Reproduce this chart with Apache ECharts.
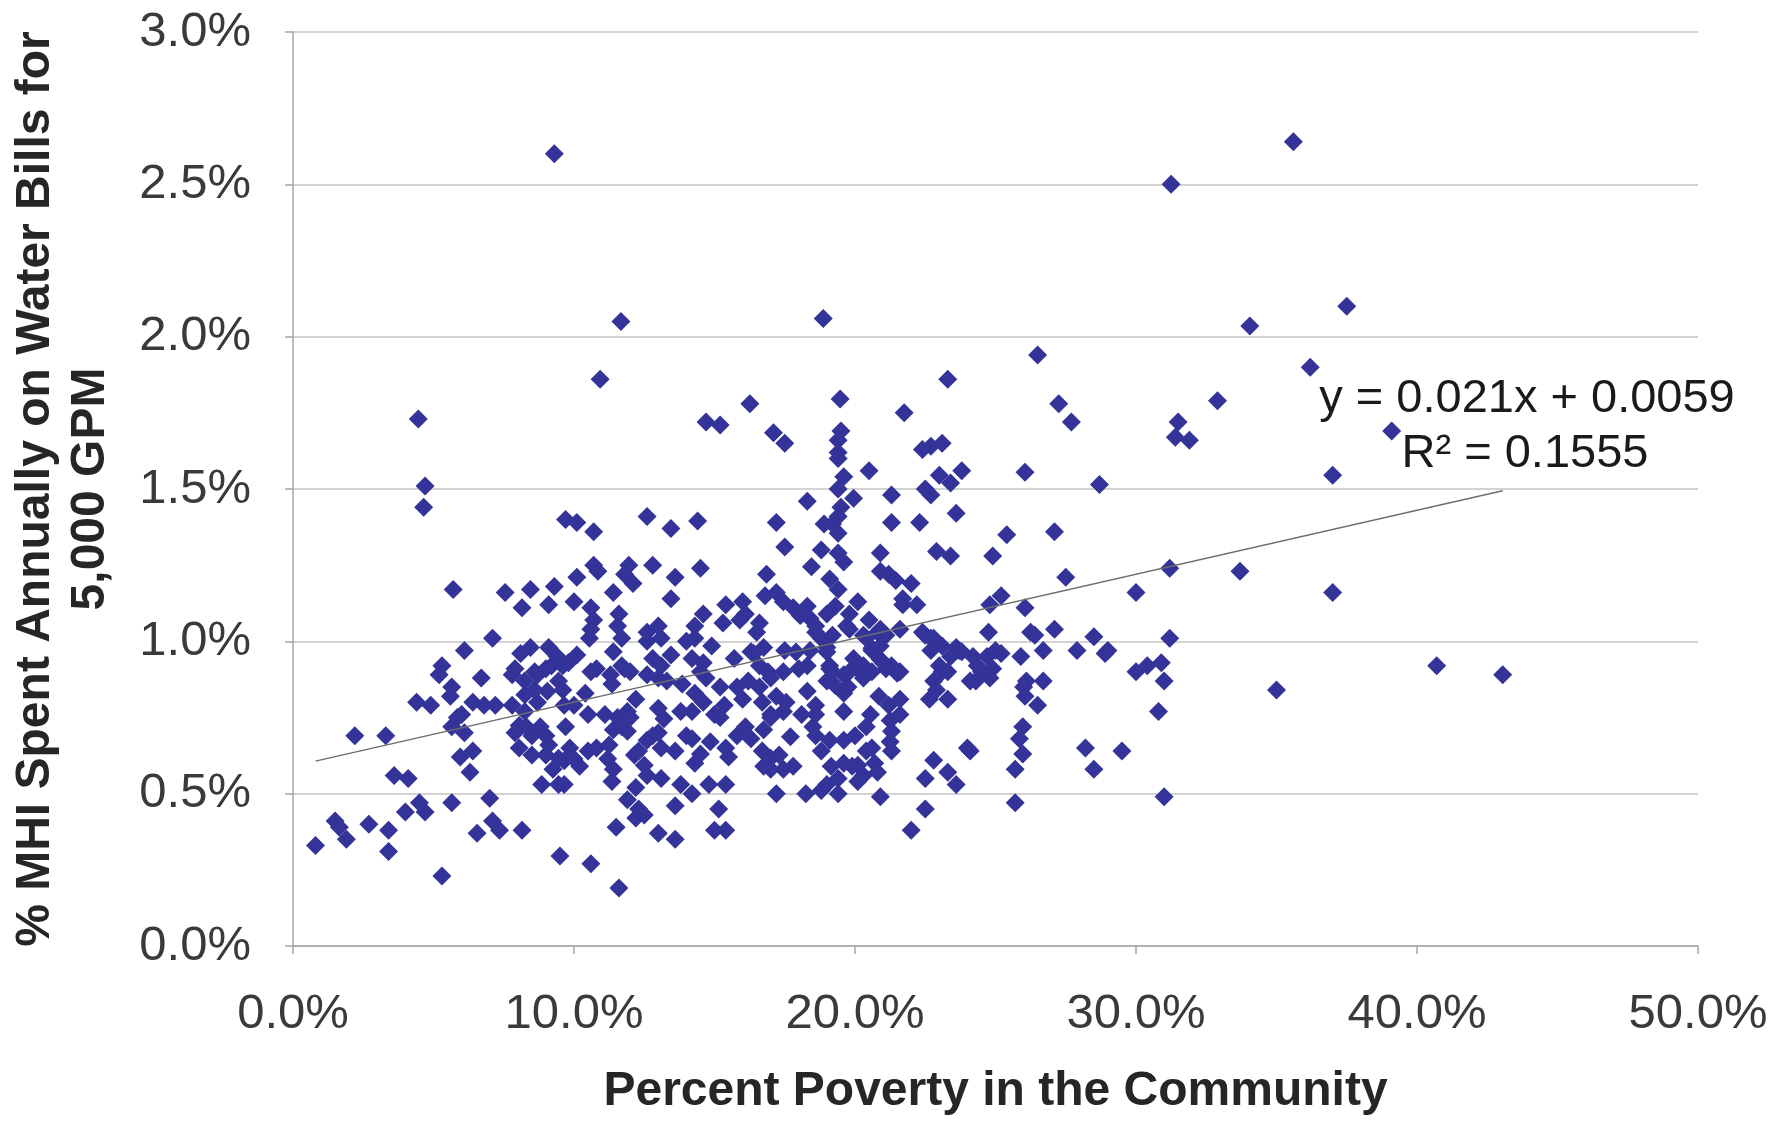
<!DOCTYPE html>
<html>
<head>
<meta charset="utf-8">
<script src="https://cdn.jsdelivr.net/npm/echarts@6/dist/echarts.min.js"></script>
<style>
  html, body { margin: 0; padding: 0; background: #fff; }
  #chart { width: 1787px; height: 1121px; }
</style>
</head>
<body>
<div id="chart"></div>
<script>
// percent poverty in the community (x)
const povertyPct = [
  9.3,35.6,31.25,11.67,18.87,34.05,37.5,10.93,23.3,26.5,
  36.2,4.46,16.26,19.47,32.9,27.25,27.7,31.5,31.4,31.9,
  39.1,14.7,15.2,17.1,17.5,21.75,19.5,19.4,19.4,19.4,
  22.4,22.7,23.1,23.0,23.4,23.8,20.5,26.05,37.0,4.7,
  4.65,28.7,19.6,19.4,19.95,19.5,19.4,19.2,19.4,18.9,
  18.3,21.3,22.7,22.5,23.6,9.7,10.1,10.7,12.6,13.45,
  14.4,17.2,21.3,22.3,25.4,27.1,17.5,18.8,18.45,19.4,
  19.6,20.9,20.9,21.2,21.45,22.0,21.7,22.9,23.4,24.9,
  27.5,31.2,33.7,30.0,37.0,25.2,24.8,26.05,19.1,19.4,
  19.3,20.1,19.8,19.7,16.85,17.2,16.8,17.45,17.8,18.05,
  18.3,18.4,18.6,10.7,10.85,10.1,11.95,12.1,11.8,12.8,
  13.6,14.5,11.4,10.0,13.45,10.6,10.7,10.6,10.55,11.6,
  11.55,11.7,13.0,12.6,14.6,14.3,14.3,14.9,15.4,16.0,
  16.1,16.6,5.7,7.55,8.45,9.3,8.15,9.1,7.1,6.1,
  5.3,8.45,9.1,7.9,8.6,9.2,9.6,6.7,18.8,19.0,
  19.2,19.8,20.3,20.8,21.1,21.6,22.5,23.1,23.6,23.0,
  17.5,19.1,20.3,20.6,20.9,21.3,21.6,24.75,26.25,27.1,
  28.5,29.0,31.2,25.0,24.7,24.35,25.9,30.0,30.4,30.9,
  24.3,24.8,26.1,26.7,26.05,26.5,25.97,25.85,25.97,25.7,
  25.7,24.1,28.2,28.5,29.5,31.0,30.8,31.0,40.7,43.05,
  35.0,0.8,1.5,1.65,1.9,2.2,3.3,2.7,3.4,3.4,
  3.6,4.1,4.0,4.5,4.7,4.4,4.9,5.3,5.65,5.2,
  5.65,5.6,5.65,6.0,6.1,5.95,6.4,6.3,6.4,6.8,
  7.2,5.85,7.0,6.55,7.1,7.35,8.15,9.5,8.85,9.45,
  7.8,8.25,8.7,8.25,7.8,8.25,8.7,9.05,9.45,9.65,
  8.05,8.5,8.05,8.5,9.0,9.45,9.0,9.25,9.65,8.1,
  9.4,9.8,7.9,8.3,8.8,9.1,9.6,9.7,9.85,8.6,
  9.0,10.0,11.1,11.55,11.9,11.4,11.9,11.7,10.0,10.5,
  10.8,11.2,11.4,11.35,12.15,12.5,12.6,12.2,12.6,13.0,
  13.1,13.2,13.0,13.1,13.6,13.8,13.85,14.2,14.5,14.85,
  14.2,14.6,15.0,15.35,15.2,14.7,15.2,15.8,16.2,15.4,
  15.8,16.3,16.75,16.75,17.0,16.7,9.65,10.8,11.3,11.8,
  12.6,13.0,10.6,11.6,11.5,11.9,12.3,12.5,12.2,13.0,
  13.6,13.6,14.2,15.15,15.0,15.4,14.8,15.4,10.1,10.6,
  11.4,11.7,12.0,12.8,13.1,13.45,14.2,14.6,15.7,16.3,
  16.6,10.4,10.5,11.35,11.25,10.2,12.0,12.2,12.3,12.8,
  13.3,13.8,14.0,14.3,14.5,14.3,15.5,16.0,16.1,16.4,
  16.6,16.7,16.9,17.0,17.45,17.2,17.55,17.0,17.45,18.3,
  18.6,18.1,18.5,18.6,17.7,19.1,19.6,20.0,17.0,17.3,
  17.45,17.0,19.15,19.4,19.6,20.1,20.3,20.4,20.6,19.1,
  19.6,20.1,20.3,19.3,19.6,19.6,19.75,20.55,20.4,20.85,
  21.2,21.6,21.25,21.3,21.25,20.6,21.1,21.5,22.8,22.65,
  23.3,23.1,24.1,17.2,18.25,18.8,19.4,20.9,22.5,22.0,
  22.5,22.8,23.3,23.6,24.0,16.75,17.9,18.3,19.0,19.2,
  19.95,20.2,20.6,20.9,21.0,22.4,22.8,23.8,23.3,17.8,
  18.0,18.4,18.6,18.8,19.0,19.0,19.8,19.9,20.1,20.7,
  20.8,21.3,21.6,22.9,22.7,23.7,23.4,24.2,24.5,24.9,
  25.2,26.0,27.9,28.9,26.7,26.4,12.6,13.1,14.0,15.3,
  15.9,16.5,18.1,18.6,19.0,20.5,20.9,21.7,22.2,22.7,
  20.4
];

// % of MHI spent annually on water bills (y), same order
const waterBillPct = [
  2.60,2.64,2.50,2.05,2.06,2.035,2.10,1.86,1.86,1.94,
  1.90,1.73,1.78,1.795,1.79,1.78,1.72,1.72,1.67,1.66,
  1.69,1.72,1.71,1.685,1.65,1.75,1.69,1.66,1.62,1.60,
  1.63,1.64,1.65,1.545,1.52,1.56,1.56,1.555,1.545,1.51,
  1.44,1.515,1.54,1.50,1.47,1.44,1.41,1.385,1.355,1.385,
  1.46,1.48,1.48,1.50,1.42,1.40,1.39,1.36,1.41,1.37,
  1.395,1.39,1.39,1.39,1.35,1.36,1.31,1.30,1.245,1.29,
  1.26,1.29,1.23,1.22,1.20,1.19,1.12,1.295,1.28,1.28,
  1.21,1.24,1.23,1.16,1.16,1.15,1.12,1.11,1.205,1.17,
  1.115,1.13,1.09,1.05,1.22,1.16,1.15,1.13,1.11,1.085,
  1.115,1.075,1.03,1.25,1.23,1.21,1.25,1.19,1.22,1.25,
  1.21,1.24,1.16,1.13,1.14,1.11,1.07,1.04,1.01,1.09,
  1.05,1.01,1.05,1.00,1.09,1.05,1.01,0.985,1.12,1.13,
  1.09,1.06,1.17,1.16,1.17,1.18,1.11,1.12,1.01,0.97,
  0.92,0.98,0.98,0.91,0.90,0.92,0.92,0.88,1.01,0.98,
  1.02,1.04,1.02,1.03,1.02,1.04,1.02,0.985,0.98,0.92,
  0.97,0.92,0.92,0.97,0.94,0.92,0.90,1.03,1.03,1.04,
  1.015,0.97,1.01,0.97,0.95,0.92,0.95,0.90,0.92,0.93,
  0.87,0.88,0.87,0.87,0.82,0.79,0.72,0.68,0.63,0.58,
  0.47,0.64,0.65,0.58,0.64,0.87,0.77,0.49,0.92,0.89,
  0.84,0.33,0.41,0.39,0.35,0.69,0.69,0.40,0.38,0.31,
  0.56,0.55,0.44,0.47,0.44,0.80,0.79,0.23,0.47,0.89,
  0.85,0.82,0.72,0.76,0.70,0.62,0.64,0.57,0.80,0.79,
  0.79,0.75,0.485,0.37,0.41,0.38,0.38,0.295,0.53,0.53,
  0.89,0.87,0.89,0.825,0.79,0.77,0.80,0.836,0.87,0.79,
  0.724,0.69,0.65,0.627,0.627,0.616,0.69,0.58,0.608,0.96,
  0.95,0.93,0.70,0.72,0.72,0.66,0.84,0.72,0.65,0.84,
  0.91,0.79,0.76,0.75,0.77,0.71,0.705,0.72,0.615,0.64,
  0.65,0.615,0.58,0.54,0.627,0.593,0.56,0.52,0.675,0.70,
  0.65,0.746,0.78,0.55,0.64,0.53,0.86,0.68,0.63,0.67,
  0.77,0.80,0.76,0.79,0.75,0.88,0.85,0.85,0.87,0.65,
  0.69,0.68,0.59,0.71,0.76,0.80,0.53,0.91,0.89,0.91,
  0.89,0.88,0.27,0.19,0.39,0.48,0.45,0.43,0.42,0.37,
  0.35,0.46,0.50,0.45,0.38,0.38,0.53,0.53,0.955,0.90,
  0.966,0.92,0.90,0.944,0.92,0.955,0.944,0.93,0.944,0.966,
  0.92,0.83,0.76,0.86,0.66,0.59,0.75,0.81,0.64,0.69,
  0.87,0.77,0.69,0.83,0.90,0.60,0.62,0.81,0.72,0.96,
  0.85,0.64,0.90,0.88,0.90,0.82,0.80,0.75,0.77,0.836,
  0.79,0.76,0.72,0.69,0.687,0.675,0.675,0.69,0.616,0.627,
  0.58,0.58,0.59,0.55,0.60,0.593,0.56,0.64,0.65,0.91,
  0.89,0.91,0.88,0.855,0.83,0.77,0.85,0.76,0.72,0.82,
  0.79,0.81,0.74,0.705,0.67,0.90,0.91,0.895,0.87,0.81,
  0.81,0.90,0.87,0.50,0.50,0.51,0.50,0.49,0.45,0.38,
  0.55,0.61,0.57,0.53,0.65,0.98,0.965,0.92,0.965,0.90,
  0.944,0.90,0.977,0.985,0.93,1.03,1.01,0.966,0.90,0.59,
  0.91,0.97,0.76,0.64,0.87,0.53,0.90,0.59,0.54,0.60,
  0.57,0.64,0.76,0.84,0.97,0.97,0.95,0.95,0.90,0.91,
  0.96,0.85,0.97,0.96,0.97,1.02,1.03,1.01,1.00,1.06,
  1.07,1.03,1.09,1.05,1.09,1.07,1.04,1.14,1.12,1.01,
  1.01
];

// Excel linear trendline, as printed on the chart (fractions)
const trendSlope = 0.021;
const trendIntercept = 0.0059;
const trendLabel = ['y = 0.021x + 0.0059', 'R² = 0.1555'];

const xTicks = { min: 0, max: 50, step: 10 };
const yTicks = { min: 0, max: 3, step: 0.5 };

const n = Math.min(povertyPct.length, waterBillPct.length);
const points = [];
for (let i = 0; i < n; i++) points.push([povertyPct[i], waterBillPct[i]]);

// trendline in percent units: y% = slope * x% + intercept * 100
const xLo = Math.min(...povertyPct);
const xHi = Math.max(...povertyPct);
const trend = [xLo, xHi].map(x => [x, trendSlope * x + trendIntercept * 100]);

const FONT = '"Liberation Sans", Arial, sans-serif';
const axisGrey = '#a6a6a6';

const chart = echarts.init(document.getElementById('chart'));
chart.setOption({
  animation: false,
  backgroundColor: '#fff',
  textStyle: { fontFamily: FONT },
  grid: { left: 287, right: 89, top: 32, bottom: 173 },
  xAxis: {
    type: 'value',
    min: xTicks.min,
    max: xTicks.max,
    interval: xTicks.step,
    axisLine: { show: true, lineStyle: { color: axisGrey, width: 1.5 } },
    axisTick: { show: true, length: 8, lineStyle: { color: axisGrey, width: 1.5 } },
    splitLine: { show: false },
    axisLabel: {
      formatter: v => v.toFixed(1) + '%',
      fontSize: 49,
      color: '#3a3a3a',
      margin: 44,
      fontFamily: FONT
    },
    name: 'Percent Poverty in the Community',
    nameLocation: 'middle',
    nameGap: 122,
    nameTextStyle: { fontSize: 48, fontWeight: 'bold', color: '#262626', fontFamily: FONT }
  },
  yAxis: {
    type: 'value',
    min: yTicks.min,
    max: yTicks.max,
    interval: yTicks.step,
    axisLine: { show: true, lineStyle: { color: axisGrey, width: 1.5 } },
    axisTick: { show: true, length: 8, lineStyle: { color: axisGrey, width: 1.5 } },
    splitLine: { show: true, lineStyle: { color: '#c4c4c4', width: 1.5 } },
    axisLabel: {
      formatter: v => v.toFixed(1) + '%',
      fontSize: 49,
      color: '#3a3a3a',
      margin: 42,
      fontFamily: FONT
    },
    name: '% MHI Spent Annually on Water Bills for\n5,000 GPM',
    nameLocation: 'middle',
    nameRotate: 90,
    nameGap: 175,
    nameTextStyle: { fontSize: 48, fontWeight: 'bold', color: '#262626', lineHeight: 55, fontFamily: FONT }
  },
  series: [
    {
      type: 'scatter',
      data: points,
      symbol: 'diamond',
      symbolSize: 19,
      itemStyle: { color: '#333399', opacity: 1 },
      z: 2
    },
    {
      type: 'line',
      data: trend,
      showSymbol: false,
      lineStyle: { color: '#6e6e6e', width: 1.5 },
      z: 3
    }
  ],
  graphic: [
    {
      type: 'text', x: 1527, y: 399, z: 10,
      style: { text: trendLabel[0], fontSize: 47, fontFamily: FONT, fill: '#1a1a1a', align: 'center', verticalAlign: 'middle' }
    },
    {
      type: 'text', x: 1525, y: 454, z: 10,
      style: { text: trendLabel[1], fontSize: 47, fontFamily: FONT, fill: '#1a1a1a', align: 'center', verticalAlign: 'middle' }
    }
  ]
});
</script>
</body>
</html>
